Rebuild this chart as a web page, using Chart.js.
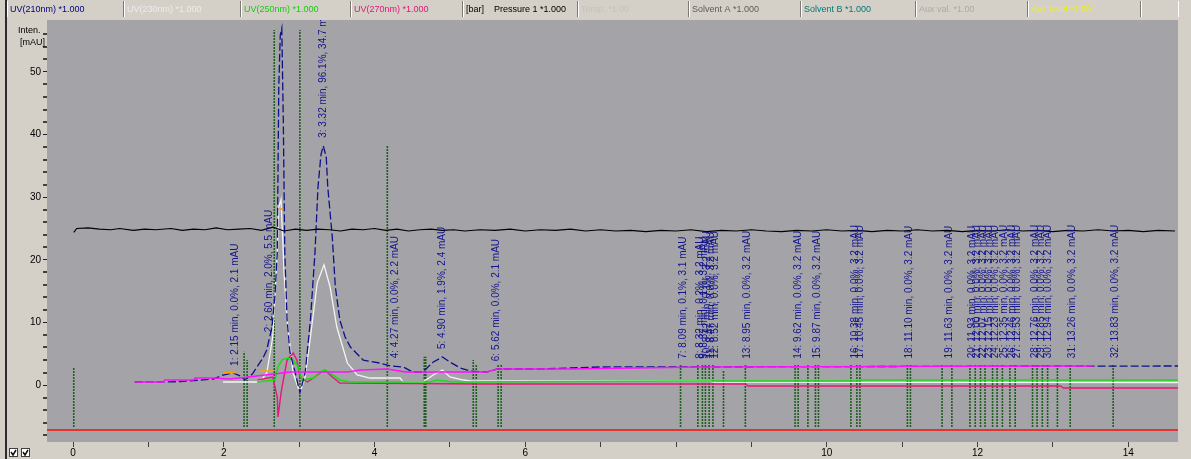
<!DOCTYPE html>
<html>
<head>
<meta charset="utf-8">
<script src="https://cdn.jsdelivr.net/npm/chart.js@4.4.1/dist/chart.umd.min.js"></script>
<style>
  html, body { margin: 0; padding: 0; background: #d4d0c8; overflow: hidden; }
  canvas { display: block; }
</style>
</head>
<body>
<canvas id="chrom" width="1191" height="459"></canvas>
<script>
// ---- channel names shown in the header strip ----
const channelLabels = ['UV(210nm) *1.000', 'UV(230nm) *1.000', 'UV(250nm) *1.000', 'UV(270nm) *1.000',
  '[bar]    Pressure 1 *1.000', 'Temp. *1.00', 'Solvent A *1.000', 'Solvent B *1.000',
  'Aux val. *1.00', 'Aux level *1.00', ''];

// ---- axis tick labels ----
const xTickLabels = [0, 2, 4, 6, 10, 12, 14];
const yTickLabels = [0, 10, 20, 30, 40, 50];

// ---- traces: [time (min), intensity] ----
const uv210 = [[0.82,0.48],[1.42,0.53],[1.86,0.96],[1.99,1.60],[2.12,1.92],[2.22,1.44],[2.28,0.80],[2.38,1.76],
  [2.44,2.88],[2.52,4.31],[2.57,5.59],[2.64,9.27],[2.68,14.4],[2.71,21.1],[2.73,47.6],[2.75,55.9],[2.77,57.0],
  [2.79,42.3],[2.81,21.1],[2.84,10.4],[2.88,5.11],[2.95,1.92],[3.01,-1.28],[3.08,1.92],[3.15,10.4],[3.21,21.1],
  [3.25,31.6],[3.29,36.8],[3.32,38.2],[3.36,36.4],[3.38,31.6],[3.44,23.6],[3.48,15.7],[3.54,10.4],[3.61,7.67],
  [3.68,6.07],[3.85,3.99],[4.07,3.51],[4.21,3.04],[4.38,2.88],[4.51,2.08],[4.64,2.08],[4.78,3.67],[4.90,4.47],
  [5.00,3.67],[5.14,2.72],[5.27,2.24],[5.49,2.08],[5.63,2.56],[6.20,2.56],[6.99,2.88],[14.66,3.04]];

const uv230 = [[1.99,0.48],[2.44,0.48],[2.52,1.12],[2.57,1.92],[2.65,7.67],[2.71,21.1],[2.73,28.4],[2.76,29.6],
  [2.79,21.1],[2.80,17.9],[2.84,10.4],[2.92,1.92],[3.01,-1.28],[3.08,1.28],[3.15,7.67],[3.24,16.3],[3.33,19.2],
  [3.41,15.7],[3.50,9.27],[3.64,3.51],[3.77,1.60],[3.94,1.12],[4.34,1.12],[4.38,0.48],[4.64,0.48],[4.78,1.60],
  [4.90,2.40],[5.00,1.28],[5.18,0.80],[5.27,0.64],[8.45,0.64],[8.50,0.45],[14.66,0.40]];

const uv250 = [[2.44,0.48],[2.68,0.80],[2.72,2.88],[2.77,3.99],[2.84,4.31],[2.92,3.99],[2.99,2.88],[3.04,0.80],
  [3.19,1.12],[3.28,2.08],[3.34,2.40],[3.41,1.92],[3.54,0.80],[3.68,0.48],[4.74,0.48],[4.83,0.80],[5.04,0.48],
  [8.32,0.64],[10.40,0.64],[10.45,0.80],[14.66,0.80]];

const uv270 = [[2.45,0.80],[2.65,1.28],[2.71,-1.92],[2.72,-5.11],[2.76,-1.28],[2.79,0.80],[2.84,3.99],[2.92,5.11],
  [2.97,3.99],[3.01,1.28],[3.11,0.48],[3.19,1.12],[3.28,1.92],[3.34,2.40],[3.44,1.28],[3.54,0.32],[5.44,0.16],
  [8.92,0.16],[8.96,-0.16],[13.10,-0.16],[13.14,-0.48],[14.66,-0.48]];

const pressure = [[0.01,24.4],[0.05,25.0],[0.2,25.1],[0.35,24.9],[0.5,24.8],[0.62,25.0],[0.8,24.7],[0.95,24.9],
  [1.1,24.8],[1.3,25.0],[1.45,24.7],[1.6,24.9],[1.75,24.8],[1.9,25.1],[2.05,24.8],[2.2,24.9],[2.35,25.0],
  [2.5,24.7],[2.65,25.2],[2.8,24.6],[2.95,24.9],[3.1,24.7],[3.25,24.9],[3.4,24.8],[3.55,24.6],[3.7,24.9],
  [3.85,24.8],[4.0,25.0],[4.15,24.7],[4.3,24.9],[4.45,24.6],[4.6,24.8],[4.75,24.9],[4.9,24.7],[5.05,24.8],
  [5.2,24.6],[5.4,24.8],[5.6,24.7],[5.8,24.9],[6.0,24.6],[6.2,24.8],[6.4,24.7],[6.6,24.9],[6.8,24.6],[7.0,24.8],
  [7.2,24.6],[7.4,24.7],[7.6,24.5],[7.8,24.7],[8.0,24.6],[8.2,24.8],[8.4,24.5],[8.6,24.7],[8.8,24.6],[9.0,24.8],
  [9.2,24.6],[9.4,24.5],[9.6,24.7],[9.8,24.6],[10.0,24.8],[10.2,24.6],[10.4,24.7],[10.6,24.5],[10.8,24.7],
  [11.0,24.6],[11.2,24.8],[11.4,24.6],[11.6,24.7],[11.8,24.5],[12.0,24.7],[12.2,24.6],[12.4,24.8],[12.6,24.6],
  [12.8,24.7],[13.0,24.5],[13.2,24.7],[13.4,24.6],[13.6,24.8],[13.8,24.6],[14.0,24.7],[14.2,24.5],[14.4,24.7],
  [14.62,24.6]];

const gradient = [[0.82,0.48],[1.20,0.48],[1.22,0.80],[1.60,0.80],[1.62,1.12],[1.86,1.12],[2.08,0.96],[2.44,1.44],
  [2.88,2.08],[3.64,2.08],[3.81,2.40],[4.17,2.56],[4.41,2.08],[5.49,2.08],[5.63,2.56],[6.60,2.56],[8.32,2.88],
  [13.54,3.04]];

const solventC = [[1.99,1.97],[2.16,1.97],null,[2.48,2.24],[2.66,2.24],null,[2.73,28.1],[2.79,28.1]];

const limitLine = [[-0.35,-7.2],[14.70,-7.2]];

// ---- integration markers: time and upper end ----
const markerBottom = -6.7;
const markerTime = [0.01,2.27,2.31,2.67,3.01,4.17,4.66,4.68,5.31,5.35,5.64,5.68,8.06,8.29,8.35,8.39,8.44,8.49,
  8.63,8.92,9.58,9.62,9.75,9.85,9.89,10.32,10.40,10.44,11.07,11.11,11.53,11.66,11.90,11.97,12.04,12.10,12.20,
  12.26,12.33,12.43,12.50,12.73,12.79,12.86,12.93,13.06,13.23,13.80];
const markerTop = [2.7,5.3,4.0,56.7,56.7,38.3,4.5,4.5,4.0,3.2,3.2,3.2,3.2,3.2,3.2,3.2,3.2,3.2,
  2.4,3.2,3.2,3.2,3.2,3.2,3.2,3.2,3.2,3.2,3.2,3.2,3.2,3.2,3.2,3.2,3.2,3.2,3.2,
  3.2,3.2,3.2,3.2,3.2,3.2,3.2,3.2,3.2,3.2,3.2];

// ---- peak table ----
const peakNo = [1,2,3,4,5,6,7,8,9,10,11,12,13,14,15,16,17,18,19,20,21,22,23,24,25,26,27,28,29,30,31,32];
const peakTime = [2.15,2.60,3.32,4.27,4.90,5.62,8.09,8.32,8.37,8.42,8.47,8.52,8.95,9.62,9.87,10.38,10.45,11.10,
  11.63,11.93,12.00,12.07,12.15,12.23,12.35,12.46,12.53,12.76,12.85,12.94,13.26,13.83];
const peakArea = [0.0,2.0,96.1,0.0,1.9,0.0,0.1,0.2,0.1,0.1,0.0,0.0,0.0,0.0,0.0,0.0,0.0,0.0,
  0.0,0.0,0.0,0.0,0.0,0.0,0.0,0.0,0.0,0.0,0.0,0.0,0.0,0.0];
const peakHeight = [2.1,5.5,34.7,2.2,2.4,2.1,3.1,3.2,3.2,3.2,3.2,3.2,3.2,3.2,3.2,3.2,3.2,3.2,
  3.2,3.2,3.2,3.2,3.2,3.2,3.2,3.2,3.2,3.2,3.2,3.2,3.2,3.2];

// ---- styling ----
const FONT = '"Liberation Sans", Arial, sans-serif';
const channelColors = ['#00007a','#ececec','#12cc12','#e0157a','#000000','#c6c2ba','#5c5c5c','#007878','#a9a9a9','#f2f200',''];
const headerX = [6,123,240,350,462,577,688,800,915,1027,1140];

function toPts(arr) {
  let lastX = 0;
  return arr.map(p => {
    if (!p) return { x: lastX, y: null };
    lastX = p[0];
    return { x: p[0], y: p[1] };
  });
}

const markerPts = [];
markerTime.forEach((t, i) => {
  markerPts.push({ x: t, y: markerBottom }, { x: t, y: markerTop[i] }, { x: t, y: null });
});

function valueAt(series, t) {
  for (let i = 1; i < series.length; i++) {
    const a = series[i - 1], b = series[i];
    if (t <= b[0]) {
      const f = (t - a[0]) / (b[0] - a[0]);
      return a[1] + f * (b[1] - a[1]);
    }
  }
  return series[series.length - 1][1];
}

function line(label, data, color, width, order, extra) {
  return Object.assign({
    label, data: toPts(data), borderColor: color, borderWidth: width, order,
    pointRadius: 0, pointHitRadius: 0, tension: 0, fill: false, spanGaps: false
  }, extra || {});
}

const xMinor = [];
for (let v = 0; v <= 14; v++) xMinor.push(v);
const yMinor = [];
for (let v = -8; v <= 56; v += 2) yMinor.push(v);

const decor = {
  id: 'decor',
  beforeDraw(chart) {
    const { ctx, chartArea: a, width, height } = chart;
    ctx.save();
    ctx.fillStyle = '#d4d0c8';
    ctx.fillRect(0, 0, width, height);
    ctx.fillStyle = '#a4a4a8';
    ctx.fillRect(a.left, a.top, a.right - a.left, a.bottom - a.top);
    // header strip
    ctx.font = '9px ' + FONT;
    ctx.textBaseline = 'middle';
    headerX.forEach((x, i) => {
      ctx.fillStyle = '#7c7a76';
      ctx.fillRect(x, 1, 1, 16);
      ctx.fillStyle = '#ffffff';
      ctx.fillRect(x + 1, 1, 1, 16);
      if (channelLabels[i]) {
        ctx.fillStyle = channelColors[i];
        ctx.fillText(channelLabels[i], x + 4, 9.5);
      }
    });
    ctx.fillStyle = '#ffffff';
    ctx.fillRect(1178, 1, 1, 16);
    ctx.restore();
  },
  afterDatasetsDraw(chart) {
    const { ctx, chartArea: a } = chart;
    const xs = chart.scales.x, ys = chart.scales.y;
    ctx.save();
    ctx.beginPath();
    ctx.rect(a.left, a.top, a.right - a.left, a.bottom - a.top);
    ctx.clip();
    ctx.font = '10px ' + FONT;
    ctx.fillStyle = '#14148c';
    ctx.textAlign = 'left';
    ctx.textBaseline = 'middle';
    peakTime.forEach((t, i) => {
      const text = peakNo[i] + ': ' + t.toFixed(2) + ' min, ' + peakArea[i].toFixed(1) + '%, ' +
        peakHeight[i].toFixed(1) + ' mAU';
      const x = xs.getPixelForValue(t);
      const y = ys.getPixelForValue(valueAt(uv210, t)) - 8;
      ctx.save();
      ctx.translate(x, y);
      ctx.rotate(-Math.PI / 2);
      ctx.fillText(text, 0, 0);
      ctx.restore();
    });
    ctx.restore();
  },
  afterDraw(chart) {
    const { ctx } = chart;
    ctx.save();
    // window edge
    ctx.fillStyle = '#2c2c2c';
    ctx.fillRect(5, 0, 2, 459);
    // axis caption
    ctx.fillStyle = '#000';
    ctx.font = '9px ' + FONT;
    ctx.textBaseline = 'alphabetic';
    ctx.fillText('Inten.', 18, 33);
    ctx.fillText('[mAU]', 20, 45);
    // view checkboxes
    [9, 21].forEach(x => {
      ctx.fillStyle = '#ffffff';
      ctx.fillRect(x, 448, 9, 9);
      ctx.strokeStyle = '#404040';
      ctx.lineWidth = 1;
      ctx.strokeRect(x + 0.5, 448.5, 8, 8);
      ctx.beginPath();
      ctx.moveTo(x + 2, 452);
      ctx.lineTo(x + 4, 455);
      ctx.lineTo(x + 7, 450);
      ctx.strokeStyle = '#101010';
      ctx.lineWidth = 1.5;
      ctx.stroke();
    });
    ctx.restore();
  }
};

new Chart(document.getElementById('chrom'), {
  type: 'line',
  data: {
    datasets: [
      line('Reference', limitLine, '#e23232', 2, 10),
      line('Markers', [], '#1d601d', 1.6, 9, { data: markerPts, borderDash: [2, 1] }),
      line('UV(230nm)', uv230, '#f4f4f4', 1.3, 8),
      line('UV(270nm)', uv270, '#e8157a', 1.4, 7),
      line('UV(250nm)', uv250, '#14e014', 1.6, 6),
      line('UV(210nm)', uv210, '#10108a', 1.3, 5, { borderDash: [8, 3] }),
      line('Gradient', gradient, '#ff10ff', 1.6, 4),
      line('Pressure', pressure, '#000000', 1.2, 3),
      line('Solvent C', solventC, '#ffa000', 1.6, 2)
    ]
  },
  options: {
    responsive: false,
    animation: false,
    devicePixelRatio: 1,
    events: [],
    layout: { padding: { top: 20, right: 13, left: 0, bottom: 0 } },
    plugins: { legend: { display: false }, tooltip: { enabled: false }, title: { display: false } },
    scales: {
      x: {
        type: 'linear', min: -0.345, max: 14.66,
        afterBuildTicks: s => { s.ticks = xMinor.map(v => ({ value: v })); },
        afterFit: s => { s.height = 17; },
        ticks: {
          autoSkip: false, maxRotation: 0, padding: 0, color: '#000',
          font: { size: 10, family: FONT },
          callback: v => xTickLabels.includes(v) ? String(v) : ''
        },
        grid: { drawOnChartArea: false, tickLength: 5, color: '#404040' },
        border: { display: false }
      },
      y: {
        type: 'linear', min: -9.1, max: 58.3,
        afterBuildTicks: s => { s.ticks = yMinor.map(v => ({ value: v })); },
        afterFit: s => { s.width = 47; },
        ticks: {
          autoSkip: false, padding: 2, color: '#000',
          font: { size: 10, family: FONT },
          callback: v => yTickLabels.includes(v) ? String(v) : ''
        },
        grid: {
          drawOnChartArea: false, tickLength: 4,
          color: c => (c.tick && yTickLabels.includes(c.tick.value)) ? '#202020' : '#404040',
          lineWidth: c => (c.tick && yTickLabels.includes(c.tick.value)) ? 1 : 2
        },
        border: { display: false }
      }
    }
  },
  plugins: [decor]
});
</script>
</body>
</html>
